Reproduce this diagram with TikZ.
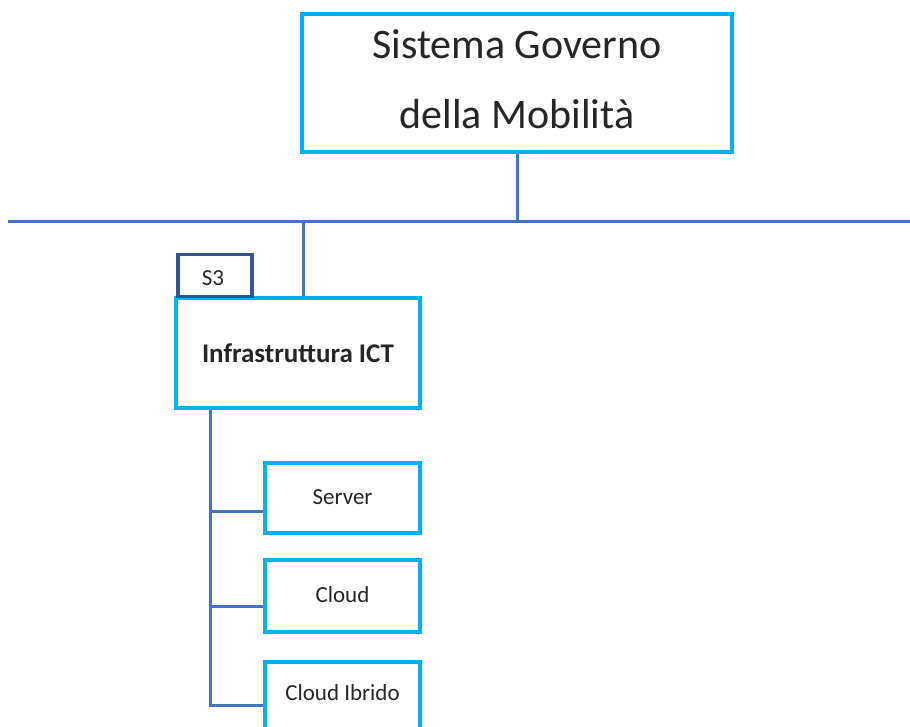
\documentclass[tikz,border=0pt]{standalone}
\usepackage{fontspec}
\setmainfont{Carlito}
\definecolor{boxblue}{HTML}{00B0F0}
\definecolor{linkblue}{HTML}{4472C4}
\definecolor{tagblue}{HTML}{2F5597}
\tikzset{
  bx/.style={draw=boxblue, line width=4pt, fill=white, rectangle, inner sep=0pt},
  tagbox/.style={draw=tagblue, line width=3.5pt, fill=white, rectangle, inner sep=0pt},
  link/.style={draw=linkblue, line width=3pt},
  lbl/.style={anchor=base, inner sep=0pt, text=black!85}
}
\begin{document}
\begin{tikzpicture}[x=1pt,y=-1pt]
\useasboundingbox (0,0) rectangle (910,726);
\clip (0,0) rectangle (910,726);
% bus
\coordinate (busL) at (8,221);
\coordinate (busR) at (912,221);
\coordinate (busTop) at (517,221);
\coordinate (busInf) at (303,221);
\draw[link] (busL) -- (busR);
% top box
\node[bx, minimum width=430pt, minimum height=138pt] (top) at (517,83) {};
\node[lbl, font=\fontsize{42}{50}\selectfont] (t1) at (517,58) {Sistema Governo};
\node[lbl, font=\fontsize{42}{50}\selectfont] (t2) at (517,128) {della Mobilità};
\draw[link] (top.south -| busTop) -- (busTop);
% infrastruttura
\node[bx, minimum width=244pt, minimum height=110pt] (infra) at (298,353) {};
\node[lbl, font=\fontsize{27}{32}\selectfont\bfseries] (infratxt) at (298,362) {Infrastruttura ICT};
\draw[link] (busInf) -- (infra.north -| busInf);
\node[tagbox, minimum width=74pt, minimum height=42pt, anchor=south west] (s3) at (176,298) {};
\node[lbl, font=\fontsize{23}{28}\selectfont] (s3txt) at (213,285) {S3};
% children
\coordinate (spineTop) at (210,410);
\node[bx, minimum width=155pt, minimum height=70pt] (server) at (342.5,498) {};
\node[lbl, font=\fontsize{23}{28}\selectfont] (servertxt) at (342.5,504) {Server};
\node[bx, minimum width=155pt, minimum height=72pt] (cloud) at (342.5,596) {};
\node[lbl, font=\fontsize{23}{28}\selectfont] (cloudtxt) at (342.5,602) {Cloud};
\node[bx, minimum width=155pt, minimum height=80pt, anchor=north] (ibrido) at (342.5,660) {};
\node[lbl, font=\fontsize{23}{28}\selectfont] (ibridotxt) at (342.5,700) {Cloud Ibrido};
\coordinate (jS) at (210,511);
\coordinate (jC) at (210,606);
\coordinate (jI) at (210,705);
\draw[link] (infra.south -| spineTop) -- (jI) -- (jI -| ibrido.west);
\draw[link] (jS) -- (jS -| server.west);
\draw[link] (jC) -- (jC -| cloud.west);
\end{tikzpicture}
\end{document}
